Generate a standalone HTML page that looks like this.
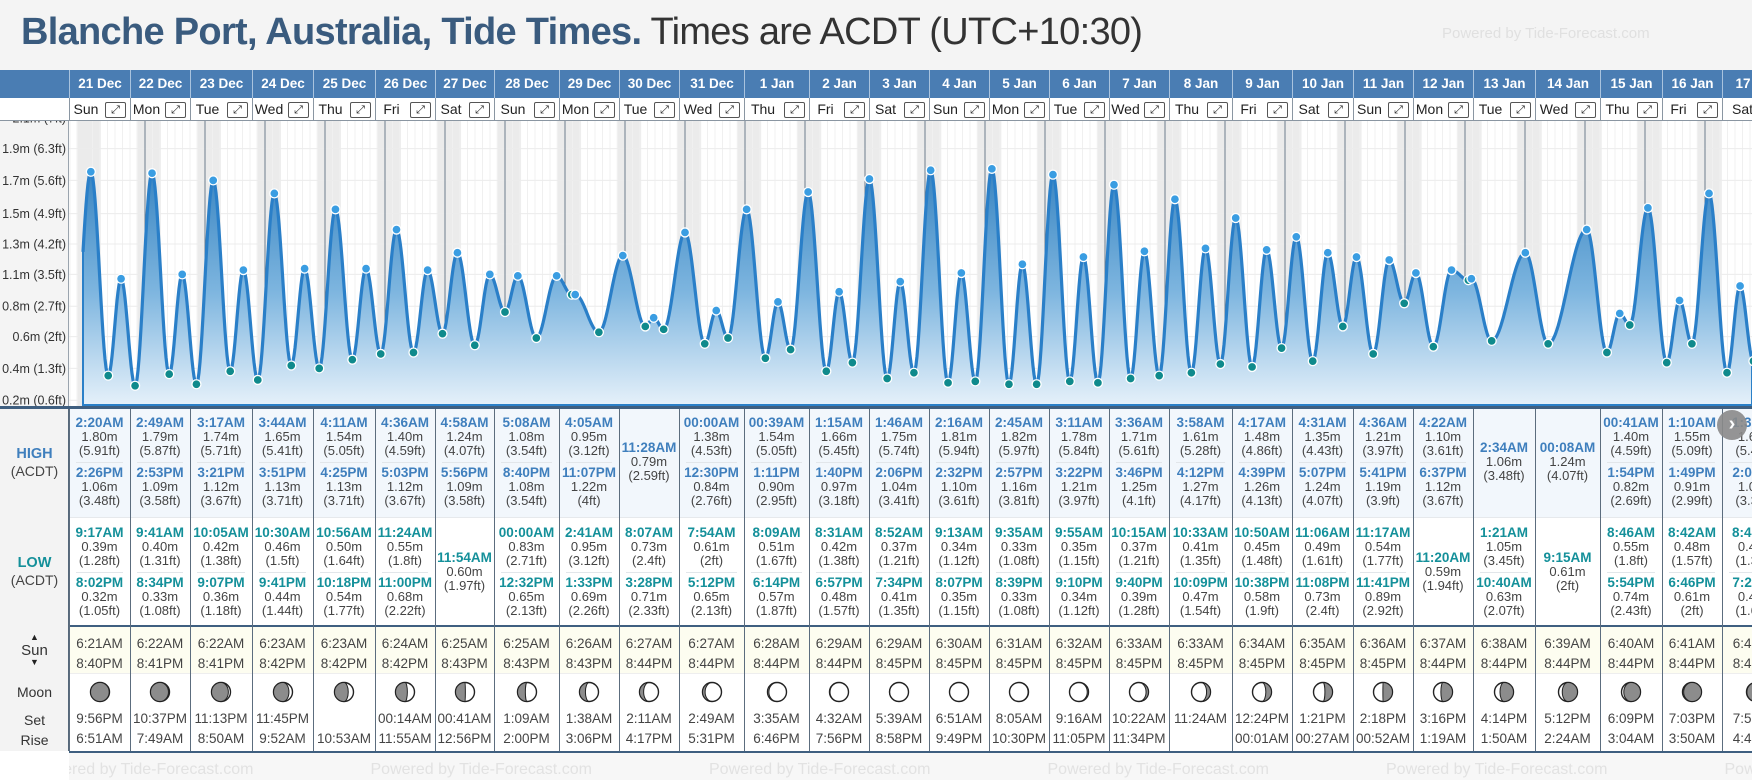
<!DOCTYPE html>
<html><head><meta charset="utf-8">
<style>
body{margin:0;width:1752px;height:780px;overflow:hidden;background:#f4f4f4;font-family:"Liberation Sans",Arial,sans-serif;position:relative}
.a{position:absolute;box-sizing:border-box}
.c{text-align:center;white-space:nowrap;overflow:hidden}
</style></head>
<body>
<svg id="chart" class="a" style="left:0;top:0" width="1752" height="410"></svg>
<div class="a" style="left:21px;top:11px;font-size:38px;white-space:nowrap;letter-spacing:-0.7px;z-index:5"><b style="color:#3a5b7e">Blanche Port, Australia, Tide Times.</b> <span style="color:#333">Times are ACDT (UTC+10:30)</span></div>
<div class="a" style="left:1442px;top:25px;font-size:15px;color:#e0e0e0;white-space:nowrap;z-index:5">Powered by Tide-Forecast.com</div>
<div id="tbl" class="a" style="left:0;top:0;width:1752px;height:780px;overflow:hidden"></div>
<script>
const days=['21 Dec','22 Dec','23 Dec','24 Dec','25 Dec','26 Dec','27 Dec','28 Dec','29 Dec','30 Dec','31 Dec','1 Jan','2 Jan','3 Jan','4 Jan','5 Jan','6 Jan','7 Jan','8 Jan','9 Jan','10 Jan','11 Jan','12 Jan','13 Jan','14 Jan','15 Jan','16 Jan','17 Jan'];
const dayNames=['Sun','Mon','Tue','Wed','Thu','Fri','Sat','Sun','Mon','Tue','Wed','Thu','Fri','Sat','Sun','Mon','Tue','Wed','Thu','Fri','Sat','Sun','Mon','Tue','Wed','Thu','Fri','Sat'];
const evDay=[-1,-1,0,0,0,0,1,1,1,1,2,2,2,2,3,3,3,3,4,4,4,4,5,5,5,5,6,6,6,7,7,7,7,8,8,8,8,9,9,9,10,10,10,10,11,11,11,11,12,12,12,12,13,13,13,13,14,14,14,14,15,15,15,15,16,16,16,16,17,17,17,17,18,18,18,18,19,19,19,19,20,20,20,20,21,21,21,21,22,22,22,23,23,23,24,24,25,25,25,25,26,26,26,26,27,27,27,27,28];
const evTime=['2:00PM','6:50PM','2:20AM','9:17AM','2:26PM','8:02PM','2:49AM','9:41AM','2:53PM','8:34PM','3:17AM','10:05AM','3:21PM','9:07PM','3:44AM','10:30AM','3:51PM','9:41PM','4:11AM','10:56AM','4:25PM','10:18PM','4:36AM','11:24AM','5:03PM','11:00PM','4:58AM','11:54AM','5:56PM','00:00AM','5:08AM','12:32PM','8:40PM','2:41AM','4:05AM','1:33PM','11:07PM','8:07AM','11:28AM','3:28PM','00:00AM','7:54AM','12:30PM','5:12PM','00:39AM','8:09AM','1:11PM','6:14PM','1:15AM','8:31AM','1:40PM','6:57PM','1:46AM','8:52AM','2:06PM','7:34PM','2:16AM','9:13AM','2:32PM','8:07PM','2:45AM','9:35AM','2:57PM','8:39PM','3:11AM','9:55AM','3:22PM','9:10PM','3:36AM','10:15AM','3:46PM','9:40PM','3:58AM','10:33AM','4:12PM','10:09PM','4:17AM','10:50AM','4:39PM','10:38PM','4:31AM','11:06AM','5:07PM','11:08PM','4:36AM','11:17AM','5:41PM','11:41PM','4:22AM','11:20AM','6:37PM','1:21AM','2:34AM','10:40AM','00:08AM','9:15AM','00:41AM','8:46AM','1:54PM','5:54PM','1:10AM','8:42AM','1:49PM','6:46PM','1:36AM','8:48AM','2:02PM','7:22PM','2:00AM'];
const evType=['H','L','H','L','H','L','H','L','H','L','H','L','H','L','H','L','H','L','H','L','H','L','H','L','H','L','H','L','H','L','H','L','H','L','H','L','H','L','H','L','H','L','H','L','H','L','H','L','H','L','H','L','H','L','H','L','H','L','H','L','H','L','H','L','H','L','H','L','H','L','H','L','H','L','H','L','H','L','H','L','H','L','H','L','H','L','H','L','H','L','H','L','H','L','H','L','H','L','H','L','H','L','H','L','H','L','H','L','H'];
const evM=[1.03,0.31,1.80,0.39,1.06,0.32,1.79,0.40,1.09,0.33,1.74,0.42,1.12,0.36,1.65,0.46,1.13,0.44,1.54,0.50,1.13,0.54,1.40,0.55,1.12,0.68,1.24,0.60,1.09,0.83,1.08,0.65,1.08,0.95,0.95,0.69,1.22,0.73,0.79,0.71,1.38,0.61,0.84,0.65,1.54,0.51,0.90,0.57,1.66,0.42,0.97,0.48,1.75,0.37,1.04,0.41,1.81,0.34,1.10,0.35,1.82,0.33,1.16,0.33,1.78,0.35,1.21,0.34,1.71,0.37,1.25,0.39,1.61,0.41,1.27,0.47,1.48,0.45,1.26,0.58,1.35,0.49,1.24,0.73,1.21,0.54,1.19,0.89,1.10,0.59,1.12,1.05,1.06,0.63,1.24,0.61,1.40,0.55,0.82,0.74,1.55,0.48,0.91,0.61,1.65,0.41,1.01,0.49,1.72];
const evFt=['3.38','1.02','5.91','1.28','3.48','1.05','5.87','1.31','3.58','1.08','5.71','1.38','3.67','1.18','5.41','1.5','3.71','1.44','5.05','1.64','3.71','1.77','4.59','1.8','3.67','2.22','4.07','1.97','3.58','2.71','3.54','2.13','3.54','3.12','3.12','2.26','4','2.4','2.59','2.33','4.53','2','2.76','2.13','5.05','1.67','2.95','1.87','5.45','1.38','3.18','1.57','5.74','1.21','3.41','1.35','5.94','1.12','3.61','1.15','5.97','1.08','3.81','1.08','5.84','1.15','3.97','1.12','5.61','1.21','4.1','1.28','5.28','1.35','4.17','1.54','4.86','1.48','4.13','1.9','4.43','1.61','4.07','2.4','3.97','1.77','3.9','2.92','3.61','1.94','3.67','3.45','3.48','2.07','4.07','2','4.59','1.8','2.69','2.43','5.09','1.57','2.99','2','5.41','1.35','3.31','1.61','5.64'];
const sunRise=['6:21AM','6:22AM','6:22AM','6:23AM','6:23AM','6:24AM','6:25AM','6:25AM','6:26AM','6:27AM','6:27AM','6:28AM','6:29AM','6:29AM','6:30AM','6:31AM','6:32AM','6:33AM','6:33AM','6:34AM','6:35AM','6:36AM','6:37AM','6:38AM','6:39AM','6:40AM','6:41AM','6:42AM'];
const sunSet=['8:40PM','8:41PM','8:41PM','8:42PM','8:42PM','8:42PM','8:43PM','8:43PM','8:43PM','8:44PM','8:44PM','8:44PM','8:44PM','8:45PM','8:45PM','8:45PM','8:45PM','8:45PM','8:45PM','8:45PM','8:45PM','8:45PM','8:44PM','8:44PM','8:44PM','8:44PM','8:44PM','8:43PM'];
const moonSet=['9:56PM','10:37PM','11:13PM','11:45PM','','00:14AM','00:41AM','1:09AM','1:38AM','2:11AM','2:49AM','3:35AM','4:32AM','5:39AM','6:51AM','8:05AM','9:16AM','10:22AM','11:24AM','12:24PM','1:21PM','2:18PM','3:16PM','4:14PM','5:12PM','6:09PM','7:03PM','7:52PM'];
const moonRise=['6:51AM','7:49AM','8:50AM','9:52AM','10:53AM','11:55AM','12:56PM','2:00PM','3:06PM','4:17PM','5:31PM','6:46PM','7:56PM','8:58PM','9:49PM','10:30PM','11:05PM','11:34PM','','00:01AM','00:27AM','00:52AM','1:19AM','1:50AM','2:24AM','3:04AM','3:50AM','4:43AM'];
const moonAge=[1.2,2.2,3.2,4.2,5.2,6.2,7.2,8.2,9.2,10.2,11.2,12.2,13.2,14.2,15.2,16.2,17.2,18.2,19.2,20.2,21.2,22.2,23.2,24.2,25.2,26.2,27.2,28.2];
const tickM=[0.22,0.44,0.66,0.87,1.09,1.30,1.51,1.74,1.96,2.17];
const tickLabels=['0.2m (0.6ft)','0.4m (1.3ft)','0.6m (2ft)','0.8m (2.7ft)','1.1m (3.5ft)','1.3m (4.2ft)','1.5m (4.9ft)','1.7m (5.6ft)','1.9m (6.3ft)','2.1m (7ft)'];

const B=[69,130,190,252,313,375,435,494,559,619,679,744,809,869,929,989,1049,1109,1169,1232,1292,1353,1413,1473,1535,1600,1662,1722,1790];
const NS='http://www.w3.org/2000/svg';
const svg=document.getElementById('chart');
function parseT(s){const m=s.match(/(\d+):(\d+)(AM|PM)/);let h=+m[1];const mi=+m[2];if(m[3]==='PM'&&h!==12)h+=12;if(m[3]==='AM'&&h===12)h=0;return h+mi/60;}
const xS=h=>85+h*2.5;
const yS=v=>432-v*144.6;
function S(tag,a){const e=document.createElementNS(NS,tag);for(const k in a)e.setAttribute(k,a[k]);svg.appendChild(e);return e;}
const T0=121,T1=406;
let r=S('rect',{x:69,y:T0,width:1683,height:T1-T0,fill:'#fff'});


for(let d=-1;d<28;d++){
  const ss=sunSet[Math.max(d,0)], sr=sunRise[Math.min(d+1,27)];
  const x1=Math.max(69,xS(d*24+parseT(ss))), x2=xS((d+1)*24+parseT(sr));
  if(x2<69)continue;
  const b=S('rect',{x:x1,y:T0,width:x2-x1,height:T1-T0,fill:'#ebebeb'});
  
  
}
for(let h=-6;h<28*24;h+=3){const x=xS(h);if(x<69||h%24===0)continue;
  const g=S('line',{x1:x,x2:x,y1:T0,y2:T1,stroke:'#f0f0f0','stroke-width':1});
  
  }
tickM.forEach((v,i)=>{const y=yS(v);
  const g=S('line',{x1:69,x2:1752,y1:y,y2:y,stroke:'#ececec','stroke-width':1});
  
  
  const t=S('text',{x:66,y:y+4.5,'text-anchor':'end','font-size':12.5,fill:'#333','font-family':'Liberation Sans, Arial, sans-serif'});
  t.textContent=tickLabels[i];
  
  });
for(let d=1;d<28;d++){const x=xS(d*24);
  const l=S('line',{x1:x,x2:x,y1:T0,y2:T1,stroke:'#6e7e8e','stroke-width':1});
  
  }
const evH=evTime.map((t,i)=>evDay[i]*24+parseT(t));
function val(h){for(let i=0;i<evH.length-1;i++){if(h>=evH[i]&&h<=evH[i+1]){const f=(h-evH[i])/(evH[i+1]-evH[i]);return evM[i]+(evM[i+1]-evM[i])*(1-Math.cos(Math.PI*f))/2;}}return evM[evM.length-1];}
let line='',area='M83,405';
for(let x=83;x<=1752;x++){const y=yS(val((x-85)/2.5)).toFixed(1);line+=(x===83?'M':'L')+x+','+y;area+='L'+x+','+y;}
area+='L1752,405Z';
const defs=S('defs',{});
defs.innerHTML='<linearGradient id="gf" gradientUnits="userSpaceOnUse" x1="0" y1="150" x2="0" y2="406"><stop offset="0" stop-color="#2e7dbd"/><stop offset="0.55" stop-color="#7db5df"/><stop offset="1" stop-color="#e6f1fa"/></linearGradient>';
const ar=S('path',{d:area,fill:'url(#gf)',stroke:'#2b80c8','stroke-width':2});


const ln=S('path',{d:line,fill:'none',stroke:'#2a7fc8','stroke-width':3.2,'stroke-linejoin':'round'});


evH.forEach((h,i)=>{const x=xS(h);if(x<80||x>1760)return;
  const c=S('circle',{cx:x,cy:yS(evM[i]),r:4.5,fill:evType[i]==='H'?'#3a9de2':'#0f8a8c',stroke:'#fff','stroke-width':1.3});
  
  });

const tbl=document.getElementById('tbl');
function D(css,txt,parent){const e=document.createElement('div');e.className='a';e.style.cssText=css;if(txt!==undefined)e.textContent=txt;(parent||tbl).appendChild(e);return e;}
let e;
e=D('left:0;top:70px;width:1752px;height:28px;background:#4a7db3');


e=D('left:0;top:98px;width:1752px;height:23px;background:#fff;border-bottom:1px solid #8a96a2');


e=D('left:0;top:406px;width:1752px;height:3px;background:#3f5f80');


e=D('left:0;top:409px;width:1752px;height:108px;background:#f2f7fc');


e=D('left:0;top:517px;width:1752px;height:108px;background:#fff;border-top:1px solid #e6e9ec');


e=D('left:0;top:625px;width:1752px;height:2px;background:#3f5f80');


e=D('left:0;top:627px;width:1752px;height:46px;background:#fdfdf0');


e=D('left:0;top:673px;width:1752px;height:79px;background:#fff;border-top:1px solid #eee');


e=D('left:0;top:751px;width:1752px;height:29px;background:#f7f7f7;border-top:2px solid #3f5f80');


for(let k=0;k<6;k++){e=D('left:'+(32+338.5*k)+'px;top:761px;font-size:16px;color:#e2e2e2;white-space:nowrap','Powered by Tide-Forecast.com');

}
e=D('left:0;top:409px;width:69px;height:343px;background:#f3f3f3;border-right:1px solid #56687a');


e=D('left:0;top:751px;width:69px;height:29px;background:#fff');


e=D('left:0;top:121px;width:69px;height:285px;border-right:1px solid #9aa4ae');


const labs=[['HIGH',446,'bold 14.5px','#3f7fbd'],['(ACDT)',463,'14px','#444'],['LOW',555,'bold 14.5px','#14909a'],['(ACDT)',572,'14px','#444'],['▲',632,'9px','#222'],['Sun',642,'15px','#333'],['▼',657,'9px','#222'],['Moon',684,'14px','#333'],['Set',712,'14px','#333'],['Rise',732,'14px','#333']];
labs.forEach(l=>{e=D('left:0;top:'+l[1]+'px;width:69px;text-align:center;font:'+l[2]+' "Liberation Sans",Arial,sans-serif;color:'+l[3],l[0]);

});

function moonPath(cx,cy,rr,age){const k=Math.cos(2*Math.PI*age/29.53);const rx=(rr*Math.abs(k)).toFixed(2);
  if(age<14.76)return `M${cx},${cy-rr}A${rr},${rr} 0 0 0 ${cx},${cy+rr}A${rx},${rr} 0 0 ${k>0?0:1} ${cx},${cy-rr}Z`;
  return `M${cx},${cy-rr}A${rr},${rr} 0 0 1 ${cx},${cy+rr}A${rx},${rr} 0 0 ${k>0?1:0} ${cx},${cy-rr}Z`;}

function group(d,list,cy,col){
  const x=B[d],w=B[d+1]-B[d];
  list.forEach((i,j)=>{const c=list.length===1?cy[2]:cy[j];
    e=D(`left:${x}px;top:${c-21}px;width:${w}px;line-height:14px;font-size:13px;color:#444`,undefined);e.className='a c';
    
    
    e.innerHTML=`<div style="font-weight:bold;font-size:13.5px;color:${col}">${evTime[i]}</div><div>${evM[i].toFixed(2)}m</div><div>(${evFt[i]}ft)</div>`;});
  if(list.length===2){e=D(`left:${x+7}px;top:${cy[3]}px;width:${w-14}px;height:1px;background:#e2e6ea`);
    
    }
}
for(let d=0;d<28;d++){
  const x=B[d],w=B[d+1]-B[d];
  e=D(`left:${x}px;top:70px;width:${w}px;height:28px;line-height:28px;color:#fff;font-weight:bold;font-size:13.5px;border-left:1px solid #a9c3de`,days[d]);e.className='a c';
  
  
  e=D(`left:${x}px;top:98px;width:${w-28}px;height:23px;line-height:23px;font-size:14px;color:#222;border-left:1px solid #8a96a2`,dayNames[d]);e.className='a c';
  
  
  e=D(`left:${x+w-25}px;top:102px;width:21px;height:16px;border:1px solid #555;border-radius:2px;font-size:11px;line-height:14px;text-align:center;color:#222;background:#fff`,'⤢');
  
  
  e=D(`left:${x}px;top:409px;width:1px;height:342px;background:#5c6d7e`);
  
  
  const hi=[],lo=[];evDay.forEach((dd,i)=>{if(dd===d)(evType[i]==='H'?hi:lo).push(i);});
  group(d,hi,[437,487,462,462],'#3f7fbd');
  group(d,lo,[547,597,572,572],'#14909a');
  e=D(`left:${x}px;top:634px;width:${w}px;line-height:20px;font-size:13.5px;color:#444`,undefined);e.className='a c';
  e.innerHTML=`<div>${sunRise[d]}</div><div>${sunSet[d]}</div>`;
  
  
  const cx=Math.round(x+w/2),s=document.createElementNS(NS,'svg');
  s.setAttribute('width',24);s.setAttribute('height',24);s.setAttribute('class','a');
  s.style.left=(cx-12)+'px';s.style.top='680px';
  s.innerHTML=`<circle cx="12" cy="12" r="9.5" fill="#fff" stroke="#222" stroke-width="1.4"/><path d="${moonPath(12,12,9.5,moonAge[d])}" fill="#8c8c8c" stroke="#222" stroke-width="1"/>`;
  
  
  tbl.appendChild(s);
  e=D(`left:${x}px;top:709px;width:${w}px;line-height:20px;font-size:13.5px;color:#444`,undefined);e.className='a c';
  e.innerHTML=`<div style="height:20px">${moonSet[d]}</div><div style="height:20px">${moonRise[d]}</div>`;
  
  
}
e=D('left:1717px;top:410px;width:30px;height:30px;border-radius:50%;background:#8a8a8a;color:#fff;font:bold 20px "Liberation Sans",sans-serif;line-height:29px;text-align:center;opacity:0.9','›');


</script>
</body></html>
